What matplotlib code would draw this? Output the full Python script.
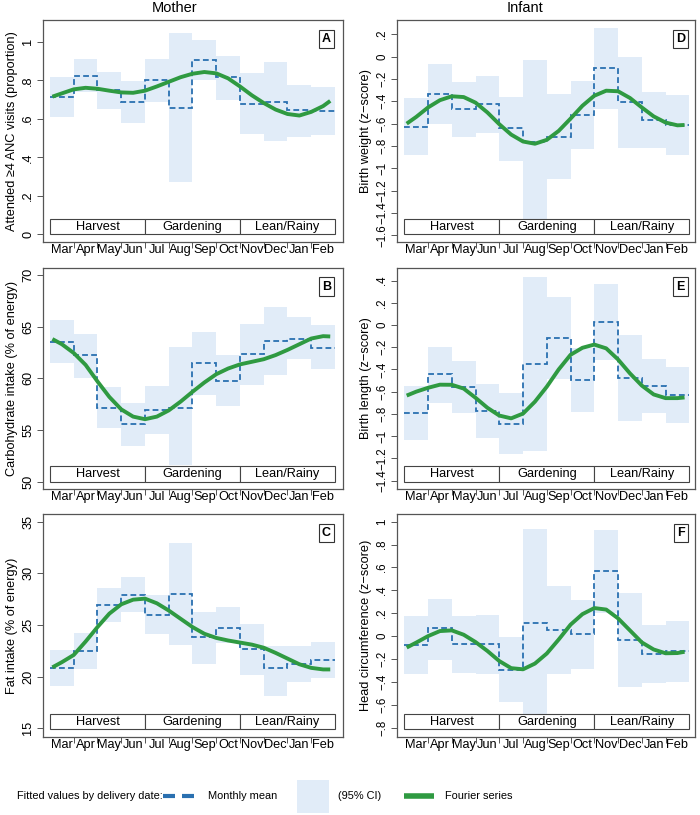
#!/usr/bin/env python
'''
seasonal pattern of maternal and infant outcomes by month of delivery
(monthly means with 95% CI and fitted Fourier series)
'''
import numpy as np
import matplotlib
matplotlib.use('Agg')
from matplotlib import pyplot as plt
from matplotlib import transforms
from matplotlib.patches import Rectangle

plt.rcParams['font.family'] = ['Liberation Sans', 'DejaVu Sans']

months = ['Mar', 'Apr', 'May', 'Jun', 'Jul', 'Aug',
          'Sep', 'Oct', 'Nov', 'Dec', 'Jan', 'Feb']
seasons = ['Harvest', 'Gardening', 'Lean/Rainy']
season_edges = [0, 4, 8, 12]
month_edges = np.arange(13)

# positions (months since start of March) at which the Fourier curve was read
curve_x = [0.1, 0.5, 1.0, 1.5, 2.0, 2.5, 3.0, 3.5, 4.0, 4.5, 5.0, 5.5, 6.0,
           6.5, 7.0, 7.5, 8.0, 8.5, 9.0, 9.5, 10.0, 10.5, 11.0, 11.5, 11.8]

# A: ANC visits
anc_mean = [0.713, 0.823, 0.752, 0.688, 0.800, 0.657, 0.906, 0.815, 0.676, 0.687, 0.645, 0.641]
anc_hi   = [0.816, 0.912, 0.844, 0.794, 0.913, 1.043, 1.009, 0.924, 0.837, 0.893, 0.773, 0.766]
anc_lo   = [0.610, 0.740, 0.649, 0.579, 0.689, 0.273, 0.800, 0.700, 0.520, 0.484, 0.507, 0.516]
anc_fit  = [0.715, 0.732, 0.753, 0.761, 0.756, 0.746, 0.737, 0.735, 0.746, 0.768, 0.792, 0.816,
            0.834, 0.843, 0.836, 0.810, 0.768, 0.722, 0.682, 0.648, 0.625, 0.617, 0.636, 0.666, 0.693]

# B: carbohydrate intake
carb_mean = [63.55, 62.23, 57.16, 55.55, 56.94, 57.10, 61.45, 59.77, 62.35, 63.65, 63.84, 62.97]
carb_hi   = [65.65, 64.32, 59.13, 57.61, 59.23, 63.00, 64.52, 62.26, 65.29, 66.94, 65.90, 65.13]
carb_lo   = [61.52, 60.06, 55.16, 53.48, 54.58, 51.61, 58.39, 57.35, 59.35, 60.32, 61.84, 60.87]
carb_fit  = [63.8, 63.3, 62.45, 61.3, 59.7, 58.2, 57.0, 56.3, 56.05, 56.3, 56.9, 57.75, 58.7,
             59.6, 60.4, 60.95, 61.35, 61.6, 61.85, 62.25, 62.75, 63.3, 63.85, 64.08, 64.05]

# C: fat intake
fat_mean = [20.87, 22.47, 26.90, 27.95, 26.00, 28.03, 23.81, 24.68, 22.65, 20.81, 21.22, 21.61]
fat_hi   = [22.58, 24.22, 28.55, 29.68, 27.90, 32.91, 26.25, 26.71, 25.12, 23.00, 22.97, 23.33]
fat_lo   = [19.12, 20.71, 25.26, 26.29, 24.10, 23.06, 21.22, 23.30, 20.20, 18.10, 19.51, 19.84]
fat_fit  = [20.9, 21.4, 22.1, 23.4, 24.8, 26.1, 27.0, 27.45, 27.55, 27.1, 26.4, 25.6, 24.8,
            24.15, 23.75, 23.5, 23.3, 23.1, 22.8, 22.3, 21.75, 21.2, 20.85, 20.7, 20.7]

# D: birth weight
bw_mean = [-0.627, -0.334, -0.469, -0.427, -0.642, -0.767, -0.716, -0.522, -0.099, -0.409, -0.570, -0.609]
bw_hi   = [-0.367, -0.066, -0.227, -0.176, -0.358, -0.033, -0.334, -0.218, 0.254, -0.006, -0.313, -0.343]
bw_lo   = [-0.881, -0.603, -0.716, -0.681, -0.931, -1.550, -1.096, -0.824, -0.466, -0.815, -0.821, -0.878]
bw_fit  = [-0.600, -0.540, -0.455, -0.390, -0.355, -0.362, -0.412, -0.500, -0.605, -0.698, -0.760, -0.780,
           -0.745, -0.665, -0.555, -0.440, -0.350, -0.305, -0.310, -0.370, -0.455, -0.535, -0.590, -0.615, -0.612]

# E: birth length
bl_mean = [-0.795, -0.444, -0.558, -0.777, -0.891, -0.348, -0.114, -0.492, 0.030, -0.477, -0.549, -0.630]
bl_hi   = [-0.552, -0.198, -0.324, -0.534, -0.609, 0.429, 0.249, -0.210, 0.369, -0.090, -0.306, -0.381]
bl_lo   = [-1.038, -0.699, -0.792, -1.020, -1.161, -1.131, -0.486, -0.780, -0.312, -0.861, -0.792, -0.885]
bl_fit  = [-0.635, -0.600, -0.565, -0.537, -0.538, -0.572, -0.655, -0.745, -0.815, -0.840, -0.797, -0.690,
           -0.555, -0.400, -0.268, -0.205, -0.176, -0.210, -0.310, -0.435, -0.545, -0.625, -0.658, -0.658, -0.652]

# F: head circumference
hc_mean = [-0.079, 0.067, -0.073, -0.070, -0.297, 0.111, 0.052, 0.015, 0.569, -0.035, -0.157, -0.131]
hc_hi   = [0.175, 0.324, 0.175, 0.184, -0.009, 0.933, 0.437, 0.315, 0.927, 0.373, 0.096, 0.134]
hc_lo   = [-0.335, -0.207, -0.321, -0.327, -0.580, -0.700, -0.327, -0.286, 0.198, -0.443, -0.408, -0.400]
hc_fit  = [-0.100, -0.057, 0.000, 0.044, 0.050, 0.012, -0.052, -0.130, -0.218, -0.280, -0.290, -0.240,
           -0.152, -0.030, 0.100, 0.192, 0.245, 0.232, 0.155, 0.050, -0.055, -0.117, -0.150, -0.148, -0.137]

M = '\u2212'
anc_ticks = [0, 0.2, 0.4, 0.6, 0.8, 1.0]
anc_ticklabels = ['0', '.2', '.4', '.6', '.8', '1']
carb_ticks = [50, 55, 60, 65, 70]
fat_ticks = [15, 20, 25, 30, 35]
bw_ticks = [-1.6, -1.4, -1.2, -1.0, -0.8, -0.6, -0.4, -0.2, 0.0, 0.2]
bw_ticklabels = [M+'1.6', M+'1.4', M+'1.2', M+'1', M+'.8', M+'.6', M+'.4', M+'.2', '0', '.2']
bl_ticks = [-1.4, -1.2, -1.0, -0.8, -0.6, -0.4, -0.2, 0.0, 0.2, 0.4]
bl_ticklabels = [M+'1.4', M+'1.2', M+'1', M+'.8', M+'.6', M+'.4', M+'.2', '0', '.2', '.4']
hc_ticks = [-0.8, -0.6, -0.4, -0.2, 0.0, 0.2, 0.4, 0.6, 0.8, 1.0]
hc_ticklabels = [M+'.8', M+'.6', M+'.4', M+'.2', '0', '.2', '.4', '.6', '.8', '1']

CI_COL = '#e1ecf8'
MEAN_COL = '#2a70b0'
FIT_COL = '#2f9a41'
FRAME = '#555555'
FS = 9.2

W, H = 700., 815.
fig = plt.figure(figsize=(7, 8.15), dpi=100)


def add_panel(px0, px1, py0, py1, xlim, ylim, mean, hi, lo, fit,
              ticks, ticklabels, ylabel, letter, tick_fs=FS):
    ax = fig.add_axes([px0/W, 1-py1/H, (px1-px0)/W, (py1-py0)/H])
    ax.fill_between(month_edges, lo + [lo[-1]], hi + [hi[-1]], step='post',
                    color=CI_COL, lw=0, zorder=1)
    ax.stairs(mean, month_edges, baseline=None, color=MEAN_COL, lw=1.3,
              ls=(0, (3.2, 1.8)), zorder=3)
    ax.plot(curve_x, fit, color=FIT_COL, lw=2.8, solid_joinstyle='round',
            solid_capstyle='butt', zorder=4)

    # season boxes
    trans = transforms.blended_transform_factory(ax.transData, ax.transAxes)
    for i, s in enumerate(seasons):
        x0, x1 = season_edges[i], season_edges[i+1]
        ax.add_patch(Rectangle((x0, 0.033), x1-x0, 0.069, transform=trans,
                               facecolor='white', edgecolor='#444444', lw=0.8, zorder=5))
        ax.text((x0+x1)/2., 0.0675, s, transform=trans, ha='center', va='center',
                fontsize=FS, zorder=6)

    ax.text(11.64, 0.915, letter, transform=trans, ha='center', va='center',
            fontsize=9, fontweight='bold', zorder=6,
            bbox=dict(boxstyle='square,pad=0.25', facecolor='white',
                      edgecolor='#333333', lw=0.8))

    ax.set_xlim(*xlim)
    ax.set_ylim(*ylim)
    ax.set_xticks(np.arange(12) + 0.5)
    ax.set_xticklabels(months)
    ax.set_xticks(np.arange(1, 12), minor=True)
    ax.tick_params(axis='x', which='major', length=0, pad=1.5, labelsize=FS)
    ax.tick_params(axis='x', which='minor', length=4, direction='out',
                   color=FRAME, width=0.7)
    ax.set_yticks(ticks)
    ax.set_yticklabels(ticklabels)
    ax.tick_params(axis='y', length=4, width=0.7, color=FRAME, pad=2,
                   labelsize=tick_fs, labelrotation=90)
    plt.setp(ax.get_yticklabels(), va='center')
    ax.set_ylabel(ylabel, fontsize=FS, labelpad=3)
    for sp in ax.spines.values():
        sp.set_color(FRAME)
        sp.set_linewidth(0.9)
    return ax


L = (42.7, 343.3)
R = (396.7, 695.0)
rows = [(20.0, 241.7), (267.7, 489.0), (514.0, 736.7)]
xl_left = (-0.307, 12.35)
xl_right = (-0.32, 12.24)
ZFS = 8.3

add_panel(L[0], L[1], *rows[0], xl_left, (-0.038, 1.113), anc_mean, anc_hi, anc_lo,
          anc_fit, anc_ticks, anc_ticklabels, 'Attended \u22654 ANC visits (proportion)', 'A')
add_panel(L[0], L[1], *rows[1], xl_left, (49.3, 70.7), carb_mean, carb_hi, carb_lo,
          carb_fit, carb_ticks, [str(t) for t in carb_ticks],
          'Carbohydrate intake (% of energy)', 'B')
add_panel(L[0], L[1], *rows[2], xl_left, (14.19, 35.74), fat_mean, fat_hi, fat_lo,
          fat_fit, fat_ticks, [str(t) for t in fat_ticks], 'Fat intake (% of energy)', 'C')
add_panel(R[0], R[1], *rows[0], xl_right, (-1.657, 0.328), bw_mean, bw_hi, bw_lo,
          bw_fit, bw_ticks, bw_ticklabels, 'Birth weight (z' + M + 'score)', 'D', ZFS)
add_panel(R[0], R[1], *rows[1], xl_right, (-1.476, 0.516), bl_mean, bl_hi, bl_lo,
          bl_fit, bl_ticks, bl_ticklabels, 'Birth length (z' + M + 'score)', 'E', ZFS)
add_panel(R[0], R[1], *rows[2], xl_right, (-0.879, 1.067), hc_mean, hc_hi, hc_lo,
          hc_fit, hc_ticks, hc_ticklabels, 'Head circumference (z' + M + 'score)', 'F', ZFS)

fig.text(175/W, 1-8/H, 'Mother', ha='center', va='center', fontsize=10.5)
fig.text(525/W, 1-8/H, 'Infant', ha='center', va='center', fontsize=10.5)

# legend strip at the bottom, in pixel coordinates
LFS = 7.9
lax = fig.add_axes([0, 0, 1, 45/H])
lax.set_xlim(0, W)
lax.set_ylim(815, 770)
lax.axis('off')
ly = 796
lax.text(17, ly, 'Fitted values by delivery date:', ha='left', va='center', fontsize=LFS)
lax.plot([163, 175], [ly, ly], color=MEAN_COL, lw=3, solid_capstyle='butt')
lax.plot([182, 194], [ly, ly], color=MEAN_COL, lw=3, solid_capstyle='butt')
lax.text(208, ly, 'Monthly mean', ha='left', va='center', fontsize=LFS)
lax.add_patch(Rectangle((297, 780), 32, 33, facecolor=CI_COL, edgecolor='none'))
lax.text(338, ly, '(95% CI)', ha='left', va='center', fontsize=LFS)
lax.plot([404, 434], [ly, ly], color=FIT_COL, lw=4, solid_capstyle='butt')
lax.text(445, ly, 'Fourier series', ha='left', va='center', fontsize=LFS)

plt.savefig('out.png', dpi=100)
